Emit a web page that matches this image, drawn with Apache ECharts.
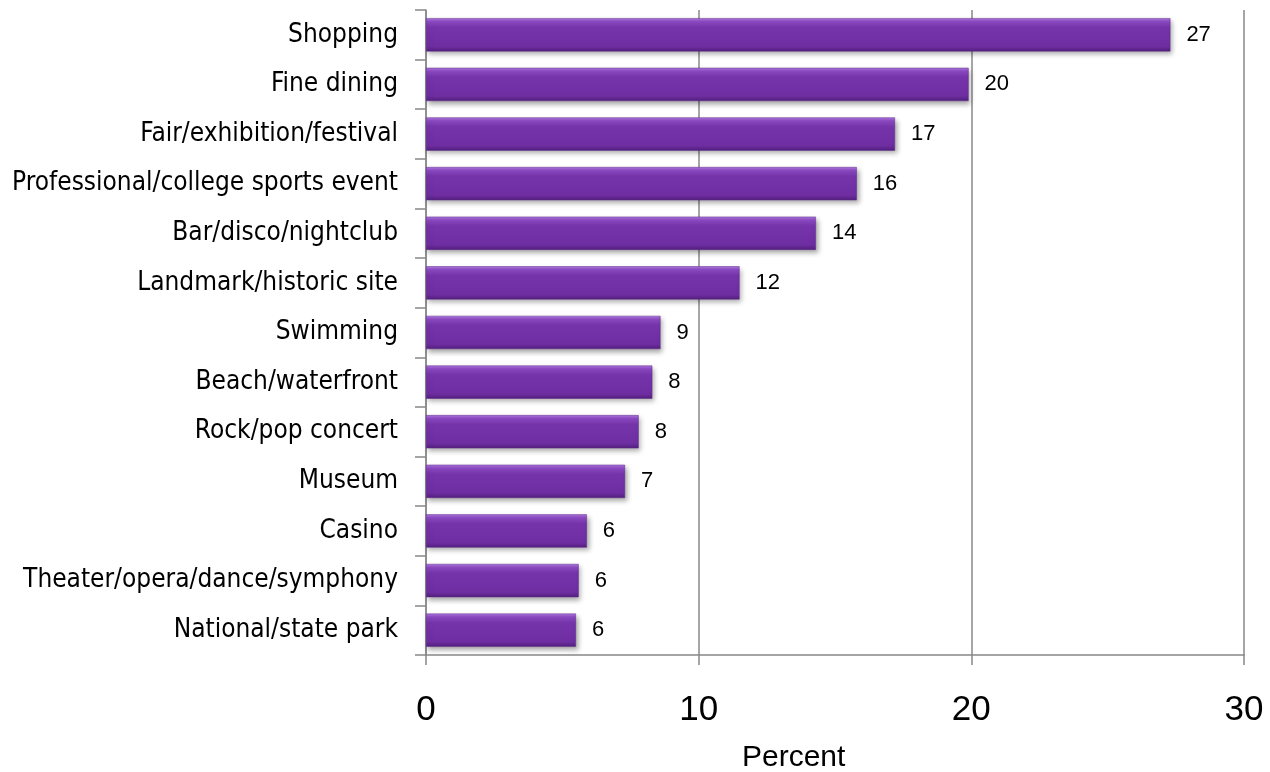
<!DOCTYPE html>
<html>
<head>
<meta charset="utf-8">
<script src="https://cdn.jsdelivr.net/npm/echarts@6/dist/echarts.min.js"></script>
<style>html,body{margin:0;padding:0;background:#fff;}#c{width:1270px;height:772px;}</style>
</head>
<body>
<div id="c"></div>
<script>
const categories = ["Shopping","Fine dining","Fair/exhibition/festival","Professional/college sports event","Bar/disco/nightclub","Landmark/historic site","Swimming","Beach/waterfront","Rock/pop concert","Museum","Casino","Theater/opera/dance/symphony","National/state park"];
const values = [27.3,19.9,17.2,15.8,14.3,11.5,8.6,8.3,7.8,7.3,5.9,5.6,5.5];
const labels = ["27","20","17","16","14","12","9","8","8","7","6","6","6"];
const xTicks = [0,10,20,30];
const axisTitle = "Percent";

const chart = echarts.init(document.getElementById('c'));
const narrow = '"Liberation Sans Narrow","Arial Narrow","DejaVu Sans Condensed",sans-serif';
const sans = '"Liberation Sans",Arial,sans-serif';
chart.setOption({
  animation:false,
  backgroundColor:'#fff',
  title:{text:axisTitle,left:737,top:738,textStyle:{fontFamily:sans,fontSize:30,fontWeight:'normal',color:'#000'}},
  grid:{left:426,right:26,top:10,bottom:117,containLabel:false,outerBoundsMode:'none'},
  xAxis:{type:'value',min:xTicks[0],max:xTicks[xTicks.length-1],interval:10,
    axisLine:{show:true,lineStyle:{color:'#888',width:1.5}},
    axisTick:{show:true,length:10,lineStyle:{color:'#888',width:1.5}},
    axisLabel:{fontFamily:sans,fontSize:35,color:'#000',margin:38},
    splitLine:{show:true,lineStyle:{color:'#888',width:1.5}}},
  yAxis:{type:'category',inverse:true,data:categories,
    axisLine:{show:true,lineStyle:{color:'#888',width:1.5}},
    axisTick:{show:true,length:11,lineStyle:{color:'#888',width:1.5}},
    axisLabel:{fontFamily:narrow,fontSize:26,color:'#000',margin:28,padding:[5,0,0,0]}},
  series:[{type:'bar',data:values,barCategoryGap:'33%',
    itemStyle:{color:new echarts.graphic.LinearGradient(0,0,0,1,[
      {offset:0,color:'#b07ae0'},{offset:0.1,color:'#8d4bc4'},{offset:0.28,color:'#7634ab'},
      {offset:0.85,color:'#6e2ea2'},{offset:1,color:'#531f7c'}]),
      borderColor:'#5e2a8c',borderWidth:0.5,
      shadowColor:'rgba(0,0,0,0.35)',shadowBlur:5,shadowOffsetX:2,shadowOffsetY:3},
    label:{show:true,position:'right',distance:16,fontFamily:sans,fontSize:22,color:'#000',padding:[4,0,0,0],
      formatter:p=>labels[p.dataIndex]}
  }]
});
</script>
</body>
</html>
